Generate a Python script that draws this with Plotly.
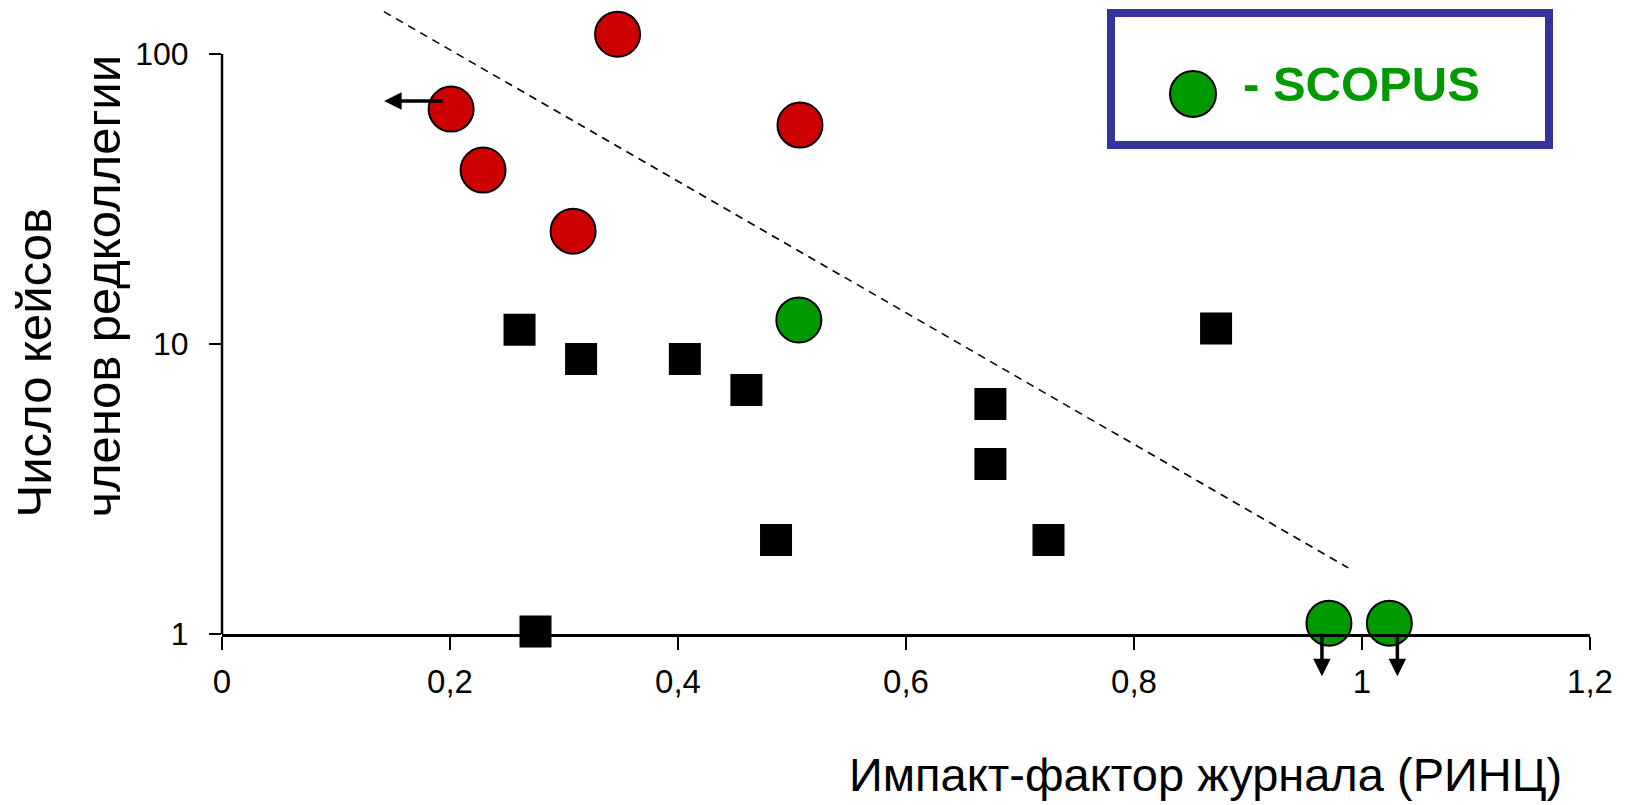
import math
import plotly.graph_objects as go

# ---- data ----
red_x = [0.201, 0.229, 0.308, 0.347, 0.507]
red_y = [64.6, 39.8, 24.5, 117, 56.9]

green_x = [0.506, 0.971, 1.024]
green_y = [12.1, 1.09, 1.09]

black_x = [0.261, 0.315, 0.406, 0.460, 0.486, 0.275, 0.674, 0.674, 0.725, 0.872]
black_y = [11.2, 8.88, 8.88, 6.94, 2.11, 1.02, 6.21, 3.86, 2.11, 11.3]

trend_x = [0.142, 0.988]
trend_y = [140, 1.69]

x_tickvals = [0, 0.2, 0.4, 0.6, 0.8, 1.0, 1.2]
x_ticktext = ["0", "0,2", "0,4", "0,6", "0,8", "1", "1,2"]
y_tickvals = [1, 10, 100]
y_ticktext = ["1", "10", "100"]

x_title = "Импакт-фактор журнала (РИНЦ)"
y_title_lines = ["Число кейсов", "членов редколлегии"]
legend_label = "- SCOPUS"

RED = "#CC0000"
GREEN = "#009900"
FRAME = "#333399"
SANS = "Liberation Sans, Arial, sans-serif"

# layout geometry (pixels); page body adds an 8px offset
W, H = 1617, 797
ML, MR, MT, MB = 214, 35, 2, 171
plot_h = H - MT - MB
decade_px = 290.0
y_top = plot_h / decade_px

fig = go.Figure()

fig.add_trace(go.Scatter(
    x=trend_x, y=trend_y, mode="lines",
    line=dict(color="black", width=1.6, dash="8px,6px"),
    hoverinfo="skip", showlegend=False))

fig.add_trace(go.Scatter(
    x=black_x, y=black_y, mode="markers",
    marker=dict(symbol="square", size=32, color="black", line=dict(width=0)),
    cliponaxis=False, showlegend=False))

fig.add_trace(go.Scatter(
    x=red_x, y=red_y, mode="markers",
    marker=dict(symbol="circle", size=45, color=RED, line=dict(color="black", width=2)),
    cliponaxis=False, showlegend=False))

fig.add_trace(go.Scatter(
    x=green_x, y=green_y, mode="markers",
    marker=dict(symbol="circle", size=45, color=GREEN, line=dict(color="black", width=2)),
    cliponaxis=False, showlegend=False))

annotations = []
# arrows (anchored on data points; log axis needs log10 positions)
arrow_style = dict(showarrow=True, text="", arrowhead=2, arrowwidth=3.5,
                   arrowsize=1.0, arrowcolor="black", xref="x", yref="y",
                   axref="pixel", ayref="pixel")
annotations.append(dict(x=red_x[0], y=math.log10(red_y[0]), xshift=-67, yshift=8,
                        ax=60, ay=0, **arrow_style))
for gx, gy, dx in [(green_x[1], green_y[1], -7), (green_x[2], green_y[2], 8)]:
    annotations.append(dict(x=gx, y=math.log10(gy), xshift=dx, yshift=-53,
                            ax=0, ay=-44, **arrow_style))

# axis titles
annotations.append(dict(text=x_title, xref="paper", yref="paper", x=0, y=0,
                        xshift=983, yshift=-169, xanchor="center", yanchor="bottom",
                        showarrow=False, font=dict(family=SANS, size=47, color="black")))
for xs, line in zip([-189, -120], y_title_lines):
    annotations.append(dict(text=line, xref="paper", yref="paper", x=0, y=0,
                            xshift=xs, yshift=114, xanchor="center", yanchor="bottom",
                            textangle=-90, showarrow=False,
                            font=dict(family=SANS, size=49, color="black")))

# legend text
annotations.append(dict(text="<b>%s</b>" % legend_label, xref="paper", yref="paper",
                        x=0, y=0, xshift=1019, yshift=550, xanchor="left",
                        yanchor="middle", showarrow=False,
                        font=dict(family=SANS, size=49, color=GREEN)))

shapes = [
    dict(type="line", xref="paper", yref="y", x0=0, x1=0, y0=y_tickvals[0], y1=y_tickvals[-1],
         line=dict(color="black", width=2.5), layer="above"),
    dict(type="rect", xref="paper", yref="paper", xsizemode="pixel", ysizemode="pixel",
         xanchor=0, yanchor=0, x0=889, x1=1327, y0=489, y1=621,
         line=dict(color=FRAME, width=8), fillcolor="rgba(0,0,0,0)"),
    dict(type="circle", xref="paper", yref="paper", xsizemode="pixel", ysizemode="pixel",
         xanchor=0, yanchor=0, x0=948, x1=994, y0=517, y1=563,
         line=dict(color="black", width=2), fillcolor=GREEN),
]

fig.update_layout(
    width=W, height=H,
    margin=dict(l=ML, r=MR, t=MT, b=MB),
    paper_bgcolor="white", plot_bgcolor="white",
    showlegend=False,
    annotations=annotations,
    shapes=shapes,
    xaxis=dict(range=[0, 1.2], tickvals=x_tickvals, ticktext=x_ticktext,
               showgrid=False, zeroline=False, showline=True, linecolor="black",
               linewidth=2.5, ticks="outside", ticklen=13, tickwidth=2,
               tickcolor="black", ticklabelstandoff=4,
               tickfont=dict(family=SANS, size=33, color="black")),
    yaxis=dict(type="log", range=[0, y_top], tickvals=y_tickvals, ticktext=y_ticktext,
               showgrid=False, zeroline=False, showline=False,
               ticks="outside", ticklen=12, tickwidth=2, tickcolor="black",
               ticklabelstandoff=14,
               tickfont=dict(family=SANS, size=32, color="black")),
)

fig.write_html("out.html")
